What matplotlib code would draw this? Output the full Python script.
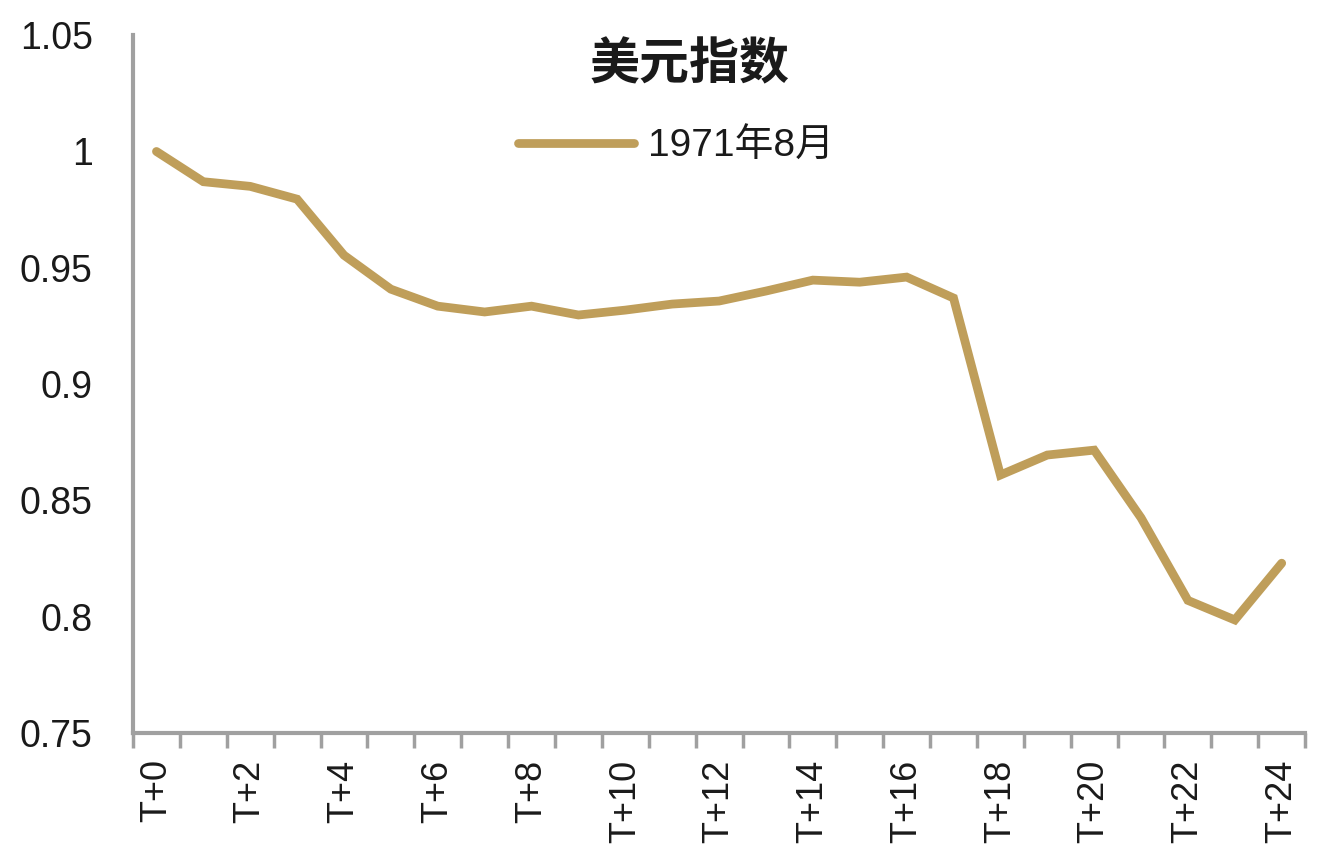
import numpy as np
import matplotlib
matplotlib.use('Agg')
import matplotlib.pyplot as plt

plt.rcParams['font.family'] = ['Liberation Sans', 'Noto Sans CJK SC', 'DejaVu Sans']
plt.rcParams['text.color'] = '#1a1a1a'

# data
periods = ['T+%d' % i for i in range(25)]
usd_index = [1.000, 0.987, 0.985, 0.9795, 0.9554, 0.9408, 0.9335, 0.931, 0.9335,
             0.9297, 0.9318, 0.9344, 0.9357, 0.940, 0.9447, 0.9438, 0.946, 0.937,
             0.8609, 0.8695, 0.8716, 0.8425, 0.807, 0.7986, 0.823]
yticks = [0.75, 0.8, 0.85, 0.9, 0.95, 1.0, 1.05]
ytick_labels = ['0.75', '0.8', '0.85', '0.9', '0.95', '1', '1.05']

fig = plt.figure(figsize=(13.17, 8.58), dpi=100)
ax = fig.add_axes([0.101, 0.1457, 0.89, 0.8133])

x = np.arange(len(periods))
ax.plot(x, usd_index, color='#BF9E5A', lw=6.3, solid_joinstyle='miter',
        solid_capstyle='round', label='1971年8月')

ax.set_xlim(-0.5, len(periods) - 0.5)
ax.set_ylim(0.75, 1.05)
ax.set_yticks(yticks)
ax.set_yticklabels(ytick_labels, fontsize=27, color='#1a1a1a')
ax.tick_params(axis='y', length=0, pad=29)

# labels on every 2nd category, tick marks on category boundaries
ax.set_xticks(x[::2])
ax.set_xticklabels(periods[::2], rotation=90, fontsize=26, color='#1a1a1a')
ax.tick_params(axis='x', which='major', length=0, pad=19)
ax.set_xticks(np.arange(-0.5, len(periods)), minor=True)
ax.tick_params(axis='x', which='minor', length=11, width=2.5, color='#A0A0A0', direction='out')

for s in ['top', 'right']:
    ax.spines[s].set_visible(False)
for s in ['left', 'bottom']:
    ax.spines[s].set_color('#A0A0A0')
    ax.spines[s].set_linewidth(3)

fig.text(0.5235, 0.923, '美元指数', fontsize=36, fontweight='bold', ha='center', va='center')
leg = fig.legend(loc='center left', bbox_to_anchor=(0.393, 0.8287), frameon=False,
                 fontsize=28, handlelength=3.0, handletextpad=0.36,
                 borderpad=0, borderaxespad=0)

fig.savefig('out.png', dpi=100)
